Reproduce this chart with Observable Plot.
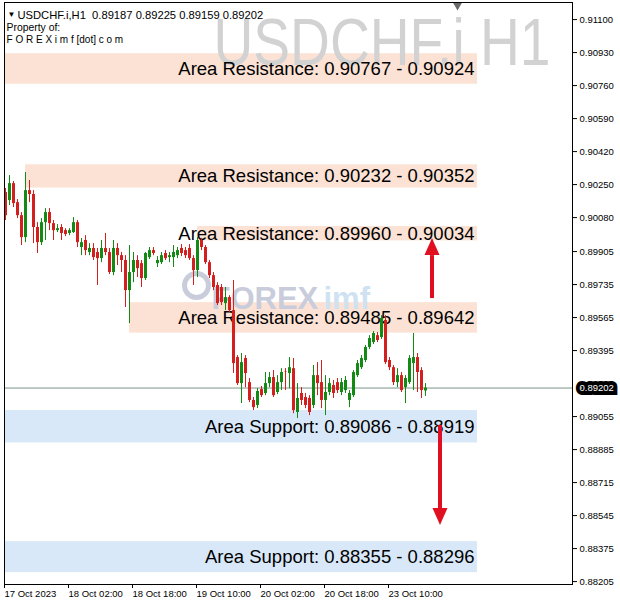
<!DOCTYPE html>
<html><head><meta charset="utf-8">
<script src="https://cdn.jsdelivr.net/npm/d3@7"></script>
<script src="https://cdn.jsdelivr.net/npm/@observablehq/plot@0.6"></script>
<style>body{margin:0;background:#fff;} svg{display:block}</style>
</head><body><div id="chart"></div>
<script>
// USDCHF.i H1 candles, 17 Oct 2023 10:00 onward (bar index = hour bar)
const openP  = [0.90209,0.90168,0.90255,0.90157,0.90090,0.89977,0.90219,0.90199,0.90029,0.89951,0.90054,0.90106,0.90049,0.90013,0.90029,0.90013,0.89998,0.90003,0.90054,0.89926,0.89962,0.89900,0.89921,0.89900,0.89869,0.89921,0.89900,0.89797,0.89921,0.89884,0.89859,0.89704,0.89797,0.89859,0.89843,0.89766,0.89874,0.89910,0.89843,0.89848,0.89895,0.89874,0.89874,0.89884,0.89921,0.89910,0.89921,0.89869,0.89807,0.89962,0.89926,0.89848,0.89781,0.89730,0.89720,0.89637,0.89668,0.89601,0.89359,0.89225,0.89354,0.89230,0.89138,0.89112,0.89194,0.89174,0.89225,0.89256,0.89179,0.89230,0.89287,0.89277,0.89302,0.89076,0.89174,0.89153,0.89148,0.89112,0.89266,0.89230,0.89138,0.89179,0.89215,0.89230,0.89179,0.89189,0.89138,0.89163,0.89266,0.89307,0.89344,0.89411,0.89436,0.89472,0.89462,0.89550,0.89344,0.89307,0.89230,0.89266,0.89204,0.89230,0.89328,0.89359,0.89292,0.89187];
const highP  = [0.90230,0.90297,0.90266,0.90173,0.90106,0.90312,0.90271,0.90219,0.90054,0.90075,0.90126,0.90126,0.90065,0.90044,0.90044,0.90023,0.90023,0.90080,0.90065,0.89972,0.89987,0.89946,0.89946,0.89921,0.89962,0.89998,0.89921,0.89962,0.89946,0.89900,0.89884,0.89936,0.89900,0.89884,0.89859,0.89900,0.89926,0.89926,0.89879,0.89900,0.89910,0.89900,0.89936,0.89926,0.89941,0.89926,0.89941,0.89884,0.89977,0.89972,0.89936,0.89859,0.89797,0.89745,0.89735,0.89720,0.89678,0.89756,0.89369,0.89380,0.89369,0.89251,0.89153,0.89199,0.89210,0.89282,0.89282,0.89292,0.89266,0.89302,0.89302,0.89359,0.89354,0.89225,0.89204,0.89174,0.89163,0.89318,0.89333,0.89344,0.89266,0.89251,0.89241,0.89251,0.89251,0.89261,0.89189,0.89292,0.89344,0.89369,0.89421,0.89472,0.89493,0.89488,0.89575,0.89575,0.89359,0.89318,0.89302,0.89282,0.89266,0.89369,0.89483,0.89380,0.89307,0.89225];
const lowP   = [0.90065,0.90142,0.90132,0.90075,0.89936,0.89951,0.90157,0.89946,0.89895,0.89936,0.89962,0.90013,0.89962,0.90003,0.89962,0.89982,0.89987,0.89998,0.89926,0.89884,0.89884,0.89884,0.89859,0.89730,0.89848,0.89884,0.89787,0.89781,0.89833,0.89797,0.89617,0.89534,0.89745,0.89771,0.89720,0.89756,0.89864,0.89884,0.89823,0.89838,0.89859,0.89848,0.89823,0.89869,0.89879,0.89869,0.89859,0.89730,0.89771,0.89910,0.89838,0.89766,0.89704,0.89627,0.89627,0.89601,0.89591,0.89277,0.89215,0.89122,0.89204,0.89127,0.89086,0.89096,0.89153,0.89163,0.89204,0.89153,0.89168,0.89189,0.89189,0.89199,0.89070,0.89045,0.89112,0.89096,0.89060,0.89096,0.89163,0.89096,0.89060,0.89163,0.89148,0.89174,0.89163,0.89174,0.89101,0.89153,0.89256,0.89297,0.89333,0.89400,0.89426,0.89436,0.89452,0.89323,0.89292,0.89215,0.89204,0.89179,0.89122,0.89220,0.89189,0.89179,0.89148,0.89159];
const closeP = [0.90090,0.90255,0.90152,0.90090,0.89977,0.90219,0.90199,0.90029,0.89951,0.90054,0.90106,0.90049,0.90013,0.90023,0.89998,0.89993,0.90013,0.90054,0.89951,0.89951,0.89910,0.89921,0.89874,0.89869,0.89921,0.89900,0.89797,0.89921,0.89884,0.89859,0.89704,0.89797,0.89859,0.89817,0.89766,0.89895,0.89910,0.89895,0.89859,0.89884,0.89869,0.89884,0.89900,0.89910,0.89895,0.89884,0.89869,0.89807,0.89962,0.89926,0.89848,0.89781,0.89720,0.89637,0.89642,0.89668,0.89601,0.89328,0.89225,0.89333,0.89277,0.89138,0.89101,0.89184,0.89163,0.89225,0.89256,0.89163,0.89230,0.89282,0.89285,0.89307,0.89086,0.89148,0.89138,0.89112,0.89076,0.89266,0.89225,0.89138,0.89179,0.89225,0.89174,0.89189,0.89230,0.89241,0.89174,0.89282,0.89328,0.89354,0.89411,0.89457,0.89483,0.89447,0.89560,0.89333,0.89307,0.89230,0.89266,0.89189,0.89251,0.89354,0.89359,0.89282,0.89189,0.89202];

const symbolName = "USDCHF.i,H1";
const watermark = "USDCHF.i H1";
const lastPrice = 0.89202;

const xTickBars = [0, 16, 32, 48, 64, 80, 96];
const xTickLabels = ["17 Oct 2023", "18 Oct 02:00", "18 Oct 18:00", "19 Oct 10:00", "20 Oct 02:00", "20 Oct 18:00", "23 Oct 10:00"];
// 0.89225 sits under the current-price tag in the terminal, so it is left out here
const yTicks = [0.91100, 0.90930, 0.90760, 0.90590, 0.90420, 0.90250, 0.90080, 0.89905, 0.89735, 0.89565, 0.89395, 0.89055, 0.88885, 0.88715, 0.88545, 0.88375, 0.88205];

// Zones (rectangles drawn on the chart)
const zoneLabels = ["Area Resistance: 0.90767 - 0.90924", "Area Resistance: 0.90232 - 0.90352", "Area Resistance: 0.89960 - 0.90034", "Area Resistance: 0.89485 - 0.89642", "Area Support: 0.89086 - 0.88919", "Area Support: 0.88355 - 0.88296"];
const zoneHi = [0.90924, 0.90352, 0.90034, 0.89642, 0.89086, 0.88411];
const zoneLo = [0.90767, 0.90232, 0.89960, 0.89485, 0.88919, 0.88251];
const zoneStart = [0, 5, 48, 31, 0, 0];
const zoneEnd = [118, 118, 118, 118, 118, 118];
const zoneKind = ["res", "res", "res", "res", "sup", "sup"];

// Arrows
const arrowBar = [106.75, 108.75];
const arrowFrom = [0.89663, 0.89009];
const arrowTo = [0.89972, 0.88494];
const arrowDir = ["up", "down"];

const candles = openP.map((o, i) => ({i, o, h: highP[i], l: lowP[i], c: closeP[i], up: closeP[i] >= o}));
const zones = zoneLabels.map((t, k) => ({t, hi: zoneHi[k], lo: zoneLo[k], x1: zoneStart[k], x2: zoneEnd[k], kind: zoneKind[k]}));
const arrows = arrowBar.map((b, k) => ({b, from: arrowFrom[k], to: arrowTo[k], dir: arrowDir[k]}));

const GREEN = "#138a13", RED = "#d41f1f", ARROW = "#e01020";
const font = "'Liberation Sans', Arial, sans-serif";

const chart = Plot.plot({
  width: 620, height: 606,
  marginLeft: 4, marginRight: 48, marginTop: 2, marginBottom: 22,
  style: {fontFamily: font, fontSize: "9.5px", color: "#000", background: "#fff"},
  x: {domain: [-0.25, 141.75], axis: null},
  y: {domain: [0.88190, 0.91188], axis: null},
  marks: [
    Plot.rect(zones, {x1: "x1", x2: "x2", y1: "lo", y2: "hi", fill: d => d.kind === "res" ? "#fce2d4" : "#d8e8f8"}),
    Plot.text([watermark], {frameAnchor: "top-left", text: d => d, dx: 209, dy: 16, lineAnchor: "top", textAnchor: "start", fontSize: 54, fill: "#d2d2d2", fontFamily: font, className: "wm"}),
    Plot.text(["FOREX"], {frameAnchor: "top-left", text: d => d, dx: 207, dy: 284, textAnchor: "start", fontSize: 31, fontWeight: "bold", fill: "#c9ccdb", fontFamily: font}),
    Plot.text(["imf"], {frameAnchor: "top-left", text: d => d, dx: 319, dy: 284, textAnchor: "start", fontSize: 31, fontWeight: "bold", fill: "#cfe2f1", fontFamily: font}),
    Plot.dot([0], {frameAnchor: "top-left", dx: 192, dy: 283, r: 12, stroke: "#c9ccdb", strokeWidth: 5, fill: "none"}),
    Plot.text(zones, {x: "x2", y: d => (d.hi + d.lo) / 2, text: "t", dx: -3, dy: 0, textAnchor: "end", fontSize: 18.5, fill: "#000", fontFamily: font}),
    Plot.ruleY([lastPrice], {stroke: "#7c948a", strokeWidth: 1}),
    Plot.ruleX(candles, {x: "i", y1: "l", y2: "h", stroke: d => d.up ? GREEN : RED, strokeWidth: 1}),
    Plot.ruleX(candles, {x: "i", y1: "o", y2: "c", stroke: d => d.up ? GREEN : RED, strokeWidth: 3}),
    Plot.frame({stroke: "#000"}),
    Plot.dot([0], {frameAnchor: "top-left", dx: 453, dy: 3, symbol: "triangle", rotate: 180, r: 3.2, fill: "#6a6a6a"}),
    Plot.axisY({anchor: "right", ticks: yTicks, tickFormat: d => d.toFixed(5), tickSize: 4, tickPadding: 3, fontSize: "9.5px"}),
    Plot.text([lastPrice], {y: d => d, text: d => d.toFixed(5), frameAnchor: "right", dx: 7, textAnchor: "start", fill: "#fff", stroke: "#000", strokeWidth: 8, strokeLinejoin: "miter", paintOrder: "stroke", fontSize: 9.5}),
    Plot.axisX({anchor: "bottom", ticks: xTickBars, tickFormat: (d, k) => xTickLabels[k], tickSize: 4, tickPadding: 2, textAnchor: "start", dx: -1, fontSize: "9.5px"}),
    Plot.text([symbolName + "  " + openP[105].toFixed(5) + " " + highP[105].toFixed(5) + " " + lowP[105].toFixed(5) + " " + closeP[105].toFixed(5)], {frameAnchor: "top-left", text: d => d, dx: 13, dy: 8.5, textAnchor: "start", fontSize: 11.2, fill: "#000"}),
    Plot.text(["▼"], {frameAnchor: "top-left", text: d => d, dx: 3, dy: 8.5, textAnchor: "start", fontSize: 8, fill: "#000"}),
    Plot.text(["Property of:"], {frameAnchor: "top-left", text: d => d, dx: 2, dy: 21, textAnchor: "start", fontSize: 10.4, fill: "#000"}),
    Plot.text(["F O R E X i m f [dot] c o m"], {frameAnchor: "top-left", text: d => d, dx: 2, dy: 33, textAnchor: "start", fontSize: 10, fill: "#000"})
  ]
});
document.getElementById("chart").appendChild(chart);

// Arrows drawn with Plot's own scales
const sx = chart.scale("x"), sy = chart.scale("y");
const svg = d3.select(chart);
arrows.forEach(a => {
  const x = sx.apply(a.b), y0 = sy.apply(a.from), yt = sy.apply(a.to);
  const hh = 17, hw = 7.5;
  const base = a.dir === "up" ? yt + hh : yt - hh;
  svg.append("line").attr("x1", x).attr("x2", x).attr("y1", y0).attr("y2", base)
    .attr("stroke", ARROW).attr("stroke-width", 4);
  svg.append("path").attr("d", `M${x},${yt} L${x - hw},${base} L${x + hw},${base} Z`).attr("fill", ARROW);
});
// Watermark: stretch vertically like the terminal's tall thin lettering
svg.selectAll(".wm text").each(function () {
  const t = d3.select(this);
  const tr = t.attr("transform") || "";
  t.attr("transform", `${tr} scale(1,1.22)`)
   .attr("textLength", 337).attr("lengthAdjust", "spacingAndGlyphs");
});
</script>
</body></html>
